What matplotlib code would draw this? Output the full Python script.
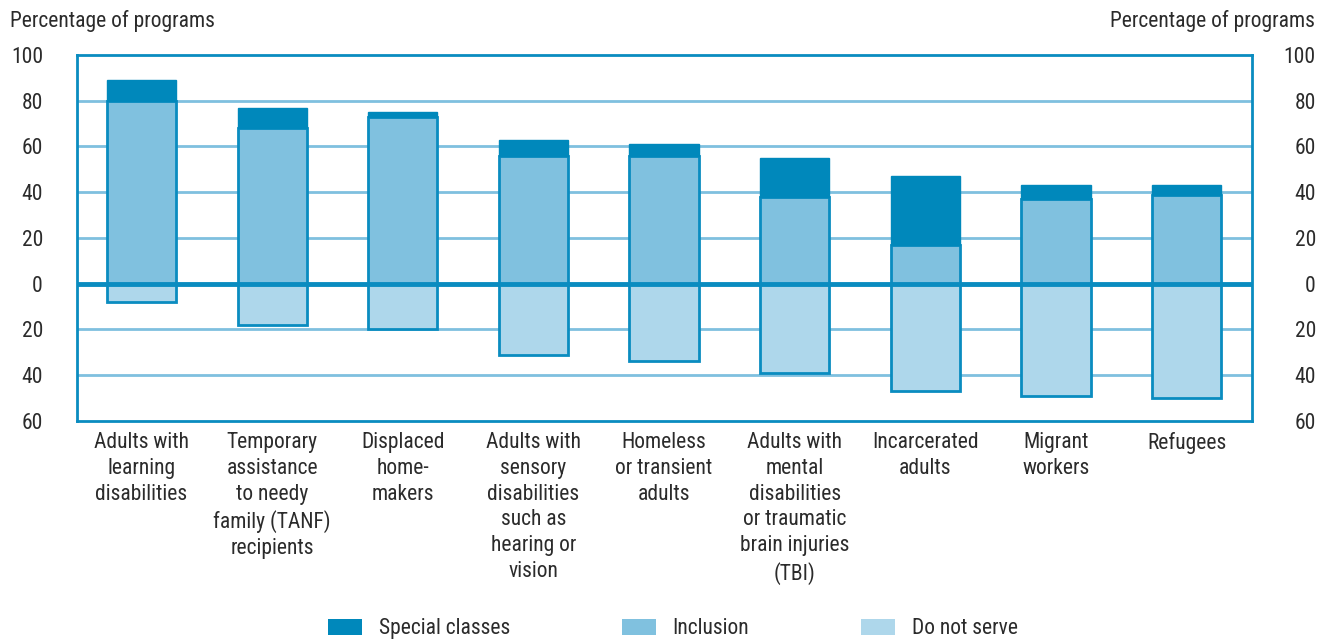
import matplotlib
matplotlib.use("Agg")
import matplotlib.pyplot as plt
from matplotlib.patches import Patch
import numpy as np

plt.rcParams['font.family'] = ['Liberation Sans Narrow', 'Roboto Condensed', 'Liberation Sans', 'DejaVu Sans']

categories = [
    "Adults with\nlearning\ndisabilities",
    "Temporary\nassistance\nto needy\nfamily (TANF)\nrecipients",
    "Displaced\nhome-\nmakers",
    "Adults with\nsensory\ndisabilities\nsuch as\nhearing or\nvision",
    "Homeless\nor transient\nadults",
    "Adults with\nmental\ndisabilities\nor traumatic\nbrain injuries\n(TBI)",
    "Incarcerated\nadults",
    "Migrant\nworkers",
    "Refugees",
]
inclusion = [80, 68, 73, 56, 56, 38, 17, 37, 39]
special_classes = [9, 9, 2, 7, 5, 17, 30, 6, 4]
do_not_serve = [8, 18, 20, 31, 34, 39, 47, 49, 50]
yticks = [-60, -40, -20, 0, 20, 40, 60, 80, 100]
ytick_labels = ["60", "40", "20", "0", "20", "40", "60", "80", "100"]

c_special = "#0088BB"
c_incl = "#80C1DF"
c_dns = "#AED7EB"
c_edge = "#0A8CC0"
c_grid = "#7FC0DF"
c_text = "#2b2b2b"

fig = plt.figure(figsize=(13.27, 6.43), dpi=100)
ax = fig.add_axes([0.058, 0.3453, 0.8855, 0.5692])

x = np.arange(len(categories))
w = 0.53
ax.bar(x, inclusion, w, color=c_incl, edgecolor=c_edge, linewidth=2, zorder=3)
ax.bar(x, special_classes, w, bottom=inclusion, color=c_special, edgecolor=c_special, linewidth=1, zorder=3)
ax.bar(x, [-v for v in do_not_serve], w, color=c_dns, edgecolor=c_edge, linewidth=2, zorder=3)

ax.set_xlim(-0.494, len(categories) - 0.5)
ax.set_ylim(-60, 100)
for g in [80, 60, 40, 20, -20, -40]:
    ax.axhline(g, color=c_grid, linewidth=2, zorder=1)
ax.axhline(0, color=c_edge, linewidth=3.5, zorder=4)

for s in ax.spines.values():
    s.set_color(c_edge)
    s.set_linewidth(2)

fs = 15.5
ax.set_yticks(yticks)
ax.set_yticklabels(ytick_labels)
ax.tick_params(axis='y', length=0, pad=24.5, labelsize=fs, labelcolor=c_text)
ax.set_xticks(x)
ax.set_xticklabels(categories, fontsize=fs, color=c_text, linespacing=1.3)
ax.tick_params(axis='x', length=0, pad=8)

ax2 = ax.twinx()
ax2.set_ylim(-60, 100)
ax2.set_yticks(yticks)
ax2.set_yticklabels(ytick_labels)
for lab in ax2.get_yticklabels():
    lab.set_horizontalalignment('right')
ax2.tick_params(axis='y', length=0, pad=46, labelsize=fs, labelcolor=c_text)
for s in ax2.spines.values():
    s.set_visible(False)

fig.text(0.0075, 0.968, "Percentage of programs", fontsize=fs, color=c_text, ha='left', va='center')
fig.text(0.991, 0.968, "Percentage of programs", fontsize=fs, color=c_text, ha='right', va='center')

handles = [Patch(facecolor=c_special, edgecolor='none', label="Special classes"),
           Patch(facecolor=c_incl, edgecolor='none', label="Inclusion"),
           Patch(facecolor=c_dns, edgecolor='none', label="Do not serve")]
fig.legend(handles=handles, loc='center', bbox_to_anchor=(0.507, 0.022), ncol=3,
           frameon=False, fontsize=fs, handlelength=1.6, handleheight=0.8,
           columnspacing=5.2, handletextpad=0.75, labelcolor=c_text)

fig.savefig("out.png", dpi=100)
